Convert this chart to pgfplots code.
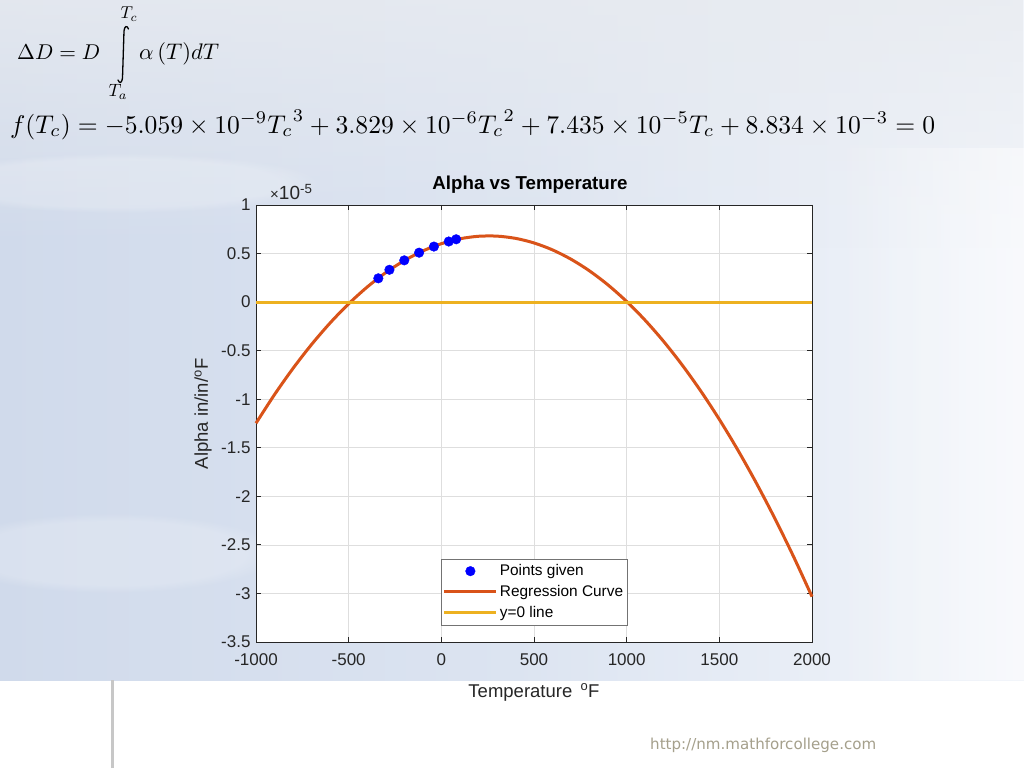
\documentclass[border=0pt]{standalone}
\usepackage{graphicx}
\usepackage{fontspec}
\setmainfont{Liberation Sans}
\newfontfamily\urlfont{DejaVu Sans}
\usepackage{pgfplots}
\pgfplotsset{compat=1.18}
\usetikzlibrary{fadings}
\definecolor{mblue}{rgb}{0,0,1}
\definecolor{morange}{rgb}{0.85,0.325,0.098}
\definecolor{myellow}{rgb}{0.929,0.694,0.125}
\definecolor{axgray}{rgb}{0.15,0.15,0.15}
\definecolor{bgL}{RGB}{208,218,235}
\definecolor{bgM}{RGB}{220,228,241}
\definecolor{bgR}{RGB}{242,245,250}
\definecolor{bgTop}{RGB}{232,235,240}
\definecolor{urlc}{RGB}{165,160,140}

\pgfplotstableread{
T a
-340 0.245
-280 0.333
-200 0.430
-120 0.509
-40 0.572
40 0.624
80 0.647
}\pointsdata

\pgfplotstableread{
T a
-1000 -1.247
-900 -0.952179
-800 -0.681796
-700 -0.435851
-600 -0.214344
-500 -0.017275
-400 0.155356
-300 0.303549
-200 0.427304
-100 0.526621
0 0.6015
100 0.651941
200 0.677944
300 0.679509
400 0.656636
500 0.609325
600 0.537576
700 0.441389
800 0.320764
900 0.175701
1000 0.0062
1100 -0.187739
1200 -0.406116
1300 -0.648931
1400 -0.916184
1500 -1.207875
1600 -1.524004
1700 -1.864571
1800 -2.229576
1900 -2.619019
2000 -3.0329
}\curvedata

\begin{document}
\begin{tikzpicture}[x=1pt,y=1pt]
\useasboundingbox (0,0) rectangle (1024,768);
\fill[white] (0,0) rectangle (1024,768);
% sky background
\shade[left color=bgL, right color=bgR, middle color=bgM] (0,88) rectangle (1024,768);
\fill[bgTop, opacity=0.8, path fading=south] (0,520) rectangle (1024,768);
\fill[white, opacity=0.2, path fading=circle with fuzzy edge 20 percent] (120,585) ellipse (200 and 30);
\fill[white, opacity=0.2, path fading=circle with fuzzy edge 20 percent] (110,215) ellipse (170 and 40);
\fill[white, opacity=0.5, path fading=west] (830,88) rectangle (1024,620);
\draw[black!22, line width=3] (112,0) -- (112,88);

% equation 1, built from pieces
\node[anchor=base west, inner sep=0] at (17,708) {\resizebox{83pt}{!}{$\Delta D = D$}};
\draw[black, line width=1.3pt, line cap=round] (128.5,739) .. controls (127,743) and (124.5,742) .. (124,737) -- (122.5,690) .. controls (122,685) and (119.5,684) .. (118,688);
\node[anchor=center, inner sep=0] at (129,754) {\resizebox{17pt}{!}{$T_c$}};
\node[anchor=center, inner sep=0] at (118,676) {\resizebox{19pt}{!}{$T_a$}};
\node[anchor=base west, inner sep=0] at (139,708) {\resizebox{80pt}{!}{$\alpha\,(T)dT$}};
% equation 2
\node[anchor=west, inner sep=0] at (10,643) {\resizebox{925pt}{!}{$f(T_c) = -5.059\times10^{-9}{T_c}^{3}+3.829\times10^{-6}{T_c}^{2}+7.435\times10^{-5}T_c+8.834\times10^{-3}=0$}};

\begin{axis}[
  at={(256pt,126pt)}, anchor=south west,
  scale only axis, width=556pt, height=437pt,
  xmin=-1000, xmax=2000, ymin=-3.5, ymax=1,
  xtick={-1000,-500,...,2000},
  ytick={-3.5,-3,-2.5,-2,-1.5,-1,-0.5,0,0.5,1},
  scaled ticks=false,
  /pgf/number format/assume math mode=true,
  /pgf/number format/1000 sep={},
  axis background/.style={fill=white},
  grid=major,
  grid style={color=black!13, line width=0.6pt},
  axis line style={color=axgray, line width=0.8pt},
  tick style={color=axgray, line width=0.8pt},
  major tick length=5pt,
  tick align=inside,
  ticklabel style={font=\fontsize{17}{19}\selectfont, text=axgray},
  xticklabel style={yshift=-8pt},
  yticklabel style={xshift=-2pt},
  clip=false,
  title={Alpha vs Temperature},
  title style={font=\bfseries\fontsize{18.7}{21}\selectfont, text=black, at={(0.5,1)}, anchor=south, inner sep=0pt, yshift=5pt, xshift=-4pt},
  xlabel={Temperature \,\textsuperscript{o}F},
  xlabel style={font=\fontsize{18.5}{21}\selectfont, text=axgray, at={(0.5,0)}, anchor=base, inner sep=0pt, yshift=-55pt},
  ylabel={Alpha in/in/\textsuperscript{o}F},
  ylabel style={font=\fontsize{18.5}{21}\selectfont, text=axgray, at={(rel axis cs:-0.0953,0.522)}, anchor=center, inner sep=0pt},
  legend style={at={(0.5,0.0389)}, anchor=south, draw=black!55, fill=white,
     font=\fontsize{15.4}{18}\selectfont, text=black, inner xsep=2pt, inner ysep=4pt,
     row sep=4pt, cells={anchor=west}},
  legend cell align=left,
]
\addplot[only marks, mark=*, mark size=4.8pt, color=mblue, fill=mblue,
  legend image code/.code={\fill[mblue] (26pt,0pt) circle (4.8pt);}]
  table[x=T,y=a] {\pointsdata};
\addlegendentry{Points given}
\addplot[morange, line width=3pt, smooth,
  legend image code/.code={\draw[morange, line width=3pt] (0pt,0pt) -- (52pt,0pt);}]
  table[x=T,y=a] {\curvedata};
\addlegendentry{Regression Curve}
\addplot[myellow, line width=3pt,
  legend image code/.code={\draw[myellow, line width=3pt] (0pt,0pt) -- (52pt,0pt);}]
  coordinates {(-1000,0) (2000,0)};
\addlegendentry{y=0 line}
\end{axis}
\node[anchor=base west, inner sep=0, font=\fontsize{19}{21}\selectfont, text=axgray] at (270,568) {{\fontsize{15}{17}\selectfont ×}10\textsuperscript{-5}};
\node[anchor=west, inner sep=0, text=urlc] at (650,23) {\resizebox{226pt}{!}{\urlfont http://nm.mathforcollege.com}};
\end{tikzpicture}
\end{document}
